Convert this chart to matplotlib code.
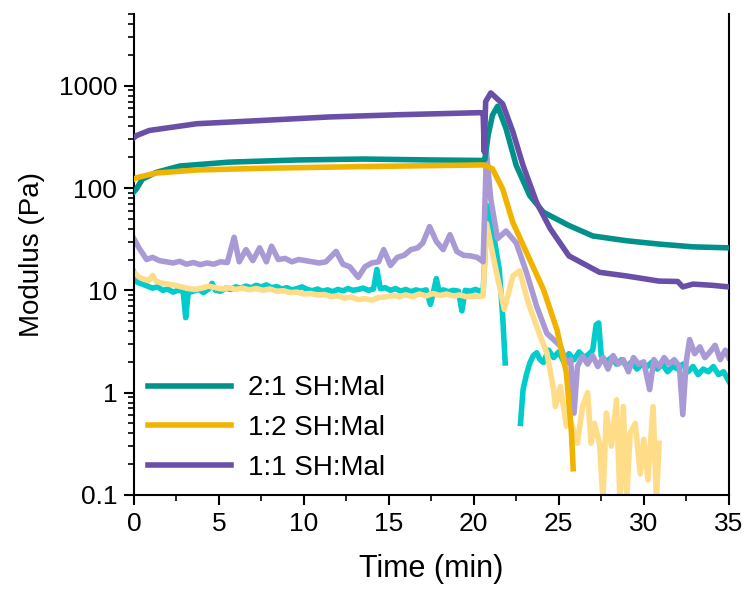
import numpy as np
import matplotlib
matplotlib.use("Agg")
import matplotlib.pyplot as plt
from matplotlib.ticker import LogLocator, NullFormatter, MultipleLocator, FixedLocator, FixedFormatter

plt.rcParams["font.family"] = ["Liberation Sans", "DejaVu Sans"]

# ---- 2:1 SH:Mal ----
t_21_g1 = [0.0, 0.15, 0.5, 1.3, 2.7, 5.6, 9.6, 13.5, 17.5, 20.4, 20.55, 20.65, 20.85, 21.1, 21.4, 21.9, 22.5, 23.3,
           24.1, 25.6, 27.0, 29.0, 30.9, 32.9, 35.0]
g1_21 = [92, 98, 122, 142, 164, 179, 188, 192, 188, 186, 186, 190, 330, 515, 630, 380, 166, 84,
         58, 43, 34, 30.5, 28.3, 26.6, 26]
t_21_g2 = [0, 0.2, 0.5, 0.8, 1.1, 1.4, 1.7, 2.0, 2.3, 2.6, 2.9, 3.05, 3.2, 3.5, 3.8, 4.1, 4.4, 4.6, 4.8, 5.1,
           5.4, 5.7, 6.0, 6.3, 6.6, 6.9, 7.2, 7.5, 7.8, 8.1, 8.4, 8.7, 9.0, 9.3, 9.6, 9.9, 10.2, 10.5, 10.8,
           11.1, 11.4, 11.7, 12.0, 12.3, 12.6, 12.9, 13.2, 13.5, 13.8, 14.1, 14.3, 14.5, 14.8, 15.1, 15.4,
           15.7, 16.0, 16.3, 16.6, 16.9, 17.2, 17.45, 17.65, 17.8, 17.95, 18.2, 18.5, 18.8, 19.1, 19.3, 19.5,
           19.8, 20.1, 20.4, 20.55, 20.8, 21.2, 21.5, 21.7, 21.85, 22.0, 22.75, 22.9, 23.1, 23.3, 23.5, 23.7,
           23.9, 24.1, 24.4, 24.7, 25.0, 25.3, 25.6, 25.9, 26.2, 26.5, 26.8, 27.0, 27.2, 27.35, 27.5, 27.8,
           28.1, 28.4, 28.7, 29.0, 29.3, 29.6, 29.9, 30.2, 30.5, 30.8, 31.1, 31.4, 31.7, 32.0, 32.3, 32.6,
           32.9, 33.2, 33.5, 33.8, 34.1, 34.4, 34.7, 35.0]
g2_21 = [15, 12, 11.5, 11, 10.5, 10.8, 10, 10.3, 9.6, 10, 9.8, 5.4, 9.5, 9.8, 10.2, 9.5, 10.3, 11.7, 10, 9.8,
         10.5, 10.2, 10.8, 10.5, 11, 10.6, 11.2, 10.8, 11.3, 10.6, 10.9, 10.3, 10.6, 10.1, 10.4, 10.8, 10.2,
         9.9, 10.3, 9.8, 10.1, 9.7, 10.2, 9.9, 10.4, 10.0, 10.2, 10.5, 10.0, 10.3, 16, 10.4, 10.6, 10.0, 10.4,
         9.8, 10.2, 9.7, 10.1, 9.8, 10.1, 7.3, 10, 13, 9.8, 10.1, 9.7, 10.0, 9.8, 6.3, 10.0,
         9.8, 10.2, 9.8, 9.6, 67, 32, 16, 5.6, 1.95, np.nan, 0.5, 1.07, 1.5, 1.95, 2.3, 2.45,
         2.1, 1.97, 2.6, 2.2, 2.5, 2.0, 2.4, 2.1, 2.5, 2.2, 2.4, 2.6, 4.6, 4.8, 2.3, 2.0,
         2.2, 1.9, 2.1, 1.8, 2.0, 1.7, 1.9, 1.8, 2.0, 1.7, 1.9, 1.6, 1.8, 1.7, 1.9, 1.6,
         1.8, 1.5, 1.7, 1.6, 1.8, 1.5, 1.6, 1.3]

# ---- 1:2 SH:Mal ----
t_12_g1 = [0.0, 0.15, 1.3, 3.7, 7.6, 13.5, 20.4, 20.6, 21.1, 21.7, 22.3, 23.1, 24.1, 24.9, 25.45, 25.75, 25.85]
g1_12 = [122, 126, 140, 150, 156, 162, 168, 168, 154, 98, 46, 23.5, 10.2, 4.1, 1.56, 0.4, 0.18]
t_12_g2 = [0, 0.3, 0.6, 0.9, 1.1, 1.3, 1.6, 2.0, 2.4, 2.8, 3.2, 3.6, 4.0, 4.4, 4.8, 5.2, 5.6, 6.0, 6.4, 6.8,
           7.2, 7.6, 8.0, 8.4, 8.8, 9.2, 9.6, 10.0, 10.4, 10.8, 11.2, 11.6, 12.0, 12.4, 12.8, 13.2, 13.6, 14.0,
           14.4, 14.8, 15.2, 15.6, 16.0, 16.4, 16.8, 17.2, 17.6, 18.0, 18.4, 18.8, 19.2, 19.6, 20.0, 20.4,
           20.55, 20.75, 21.3, 21.8, 22.3, 22.7, 23.2, 23.9, 24.3, 24.7, 24.8, 25.1, 25.45, 25.7, 26.1, 26.4,
           26.7, 26.9, 27.1, 27.4, 27.6, 27.8, 28.1, 28.4, 28.6, 28.8, 29.0, 29.2, 29.5, 29.8, 30.0, 30.25,
           30.55, 30.75, 30.9]
g2_12 = [15, 13.5, 12.8, 12.5, 14, 12.3, 11.8, 11.5, 11.2, 10.8, 10.4, 10.2, 10.5, 11, 10.6, 10.3, 10.6, 10.2,
         10.5, 10.1, 10.4, 10.0, 10.3, 9.8, 9.9, 9.5, 9.6, 9.2, 9.3, 9.0, 9.1, 8.7, 8.8, 8.4, 8.6, 8.1, 8.3,
         8.0, 8.5, 8.6, 8.9, 8.7, 9.0, 8.7, 9.2, 8.8, 9.3, 8.9, 9.2, 8.8, 9.0, 8.6, 8.8, 8.7,
         8.8, 45, 16, 6.5, 13.8, 15.5, 7.6, 3.6, 2.45, 1.07, 0.73, 1.15, 0.47, 0.53, 0.32, 0.73,
         1.0, 0.32, 0.5, 0.32, 0.09, 0.63, 0.3, 0.85, 0.09, 0.73, 0.09, 0.4, 0.5, 0.16, 0.35, 0.14,
         0.73, 0.09, 0.32]

# ---- 1:1 SH:Mal ----
t_11_g1 = [0.0, 0.15, 0.9, 3.7, 7.6, 11.5, 15.5, 20.35, 20.55, 20.62, 20.7, 21.0, 21.7, 22.3, 22.9, 23.7, 24.5,
           25.6, 27.4, 29.0, 30.9, 32.0, 32.3, 32.9, 34.0, 35.0]
g1_11 = [310, 325, 365, 425, 458, 495, 520, 545, 540, 225, 700, 850, 665, 355, 166, 72, 40,
         21.7, 15, 13.8, 12.3, 12.2, 10.8, 11.5, 11.2, 10.8]
t_11_g2 = [0, 0.3, 0.75, 1.1, 1.5, 1.9, 2.3, 2.7, 3.1, 3.5, 3.9, 4.3, 4.7, 5.1, 5.5, 5.9, 6.2, 6.6, 7.0, 7.4,
           7.8, 8.1, 8.5, 8.9, 9.3, 9.7, 10.1, 10.5, 10.9, 11.3, 11.9, 12.3, 12.7, 13.2, 13.6, 14.0, 14.4,
           14.7, 15.1, 15.5, 15.9, 16.3, 16.7, 17.0, 17.4, 17.8, 18.2, 18.6, 19.0, 19.4, 19.8, 20.2, 20.55,
           20.75, 21.0, 21.4, 21.9, 22.5, 23.1, 23.7, 24.3, 25.1, 25.45, 25.7, 25.9, 26.1, 26.4, 26.7, 27.0,
           27.3, 27.6, 27.9, 28.2, 28.5, 28.8, 29.1, 29.4, 29.7, 30.0, 30.35, 30.6, 30.9, 31.2, 31.5, 31.8,
           32.1, 32.3, 32.5, 32.7, 33.0, 33.3, 33.6, 33.9, 34.2, 34.5, 34.8, 35.0]
g2_11 = [32, 26, 20, 21, 19.5, 19, 18.5, 19.2, 18, 18.7, 17.8, 18.5, 18, 19, 18.7, 33, 19, 25, 19.5, 26,
         19, 27, 20, 20.5, 19, 20, 19.5, 19, 18.5, 19, 24, 18, 17, 13.4, 17, 18.5, 19,
         25, 17.5, 21, 22, 25, 26, 29, 42, 30, 25, 35, 24, 22, 21.7, 21, 19,
         224, 78, 32, 38, 29, 15, 7, 3.8, 2.85, 1.95, 2.1, 0.63, 1.8, 2.27, 1.9, 2.3,
         1.8, 2.2, 1.7, 2.3, 1.9, 2.1, 1.6, 2.2, 1.9, 2.0, 1.07, 2.1, 1.8, 2.2, 1.9, 2.1,
         1.8, 0.61, 2.0, 3.3, 2.4, 2.8, 2.2, 2.5, 2.9, 2.1, 2.6, 2.2]

labels = ["2:1 SH:Mal", "1:2 SH:Mal", "1:1 SH:Mal"]
dark = ["#00918a", "#f0b400", "#6a4fa8"]
light = ["#00cccc", "#ffdd88", "#a99ad6"]

fig = plt.figure(figsize=(7.52, 5.92), dpi=100)
ax = fig.add_axes([0.178, 0.164, 0.791, 0.812])

lw = 4.0
ax.plot(t_21_g2, g2_21, color=light[0], lw=lw, zorder=2)
ax.plot(t_12_g2, g2_12, color=light[1], lw=lw, zorder=2)
ax.plot(t_11_g2, g2_11, color=light[2], lw=lw, zorder=2)
ax.plot(t_21_g1, g1_21, color=dark[0], lw=lw, zorder=3, label=labels[0])
ax.plot(t_12_g1, g1_12, color=dark[1], lw=lw, zorder=3, label=labels[1])
ax.plot(t_11_g1, g1_11, color=dark[2], lw=lw, zorder=4, label=labels[2])

ax.set_yscale("log")
ax.set_xlim(0, 35)
ax.set_ylim(0.1, 5000)
ax.xaxis.set_major_locator(MultipleLocator(5))
ax.xaxis.set_minor_locator(MultipleLocator(2.5))
ax.yaxis.set_major_locator(FixedLocator([0.1, 1, 10, 100, 1000]))
ax.yaxis.set_major_formatter(FixedFormatter(["0.1", "1", "10", "100", "1000"]))
ax.yaxis.set_minor_locator(LogLocator(base=10, subs=np.arange(2, 10), numticks=20))
ax.yaxis.set_minor_formatter(NullFormatter())

ax.spines["top"].set_visible(False)
for s in ["left", "bottom", "right"]:
    ax.spines[s].set_linewidth(1.5)
ax.tick_params(which="major", direction="out", length=7, width=1.5, labelsize=19, right=False, pad=5)
ax.tick_params(which="minor", direction="out", length=4, width=1.2, right=False)

ax.set_xlabel("Time (min)", fontsize=22, labelpad=13)
ax.set_ylabel("Modulus (Pa)", fontsize=20, labelpad=10)

ax.legend(loc="lower left", bbox_to_anchor=(0.0, 0.0), frameon=False, fontsize=20,
          handlelength=3.0, handletextpad=0.6, labelspacing=0.5, borderaxespad=0.1)

fig.savefig("out.png", dpi=100)
